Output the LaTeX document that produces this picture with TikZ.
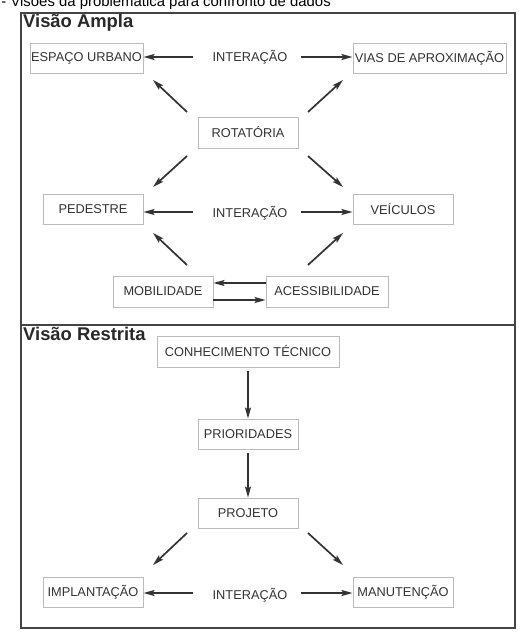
\documentclass[tikz,border=0pt]{standalone}
\usepackage{fontspec}
\setmainfont{Liberation Sans}
\usetikzlibrary{arrows.meta}
\definecolor{txt}{HTML}{333333}
\definecolor{boxline}{HTML}{BBBBBB}
\definecolor{frame}{HTML}{444444}
\tikzset{
  box/.style={draw=boxline, line width=0.9pt, text=txt, inner sep=0pt,
    font=\fontsize{12.8}{14}\selectfont},
  lbl/.style={text=txt, inner sep=0pt, font=\fontsize{12.8}{14}\selectfont},
  arr/.style={draw=txt, line width=1.7pt, -{Stealth[length=11pt,width=6pt,inset=2pt]}},
  ttl/.style={anchor=base west, inner sep=0pt, text=txt!80!black, font=\fontsize{18.4}{20}\selectfont\bfseries},
}
\newcommand{\bx}[6]{\node[box, minimum width=#4-#2, minimum height=#5-#3] (#1) at ({(#2+#4)/2},{(#3+#5)/2}) {#6};}
\begin{document}
\begin{tikzpicture}[x=1pt,y=-1pt]
\useasboundingbox (0,0) rectangle (519,632);
\fill[white] (0,0) rectangle (519,632);
\begin{scope}
\clip (0,0) rectangle (519,632);
\node[anchor=base east, inner sep=0pt, text=black, font=\fontsize{14.9}{16}\selectfont] (cap) at (331,6.5) {- Visões da problemática para confronto de dados};
\end{scope}
% frame
\draw[frame, line width=1.5pt] (21,13) rectangle (515,628);
\draw[frame, line width=1.5pt] (21,325) -- (515,325);
\node[ttl] (t1) at (23,27) {Visão Ampla};
\node[ttl] (t2) at (23,340) {Visão Restrita};
% upper
\bx{eu}{30}{43}{143}{73}{ESPAÇO URBANO}
\bx{va}{353}{43}{506}{73}{VIAS DE APROXIMAÇÃO}
\node[lbl] (i1) at (250,57) {INTERAÇÃO};
\bx{rot}{198}{117}{298}{148}{ROTATÓRIA}
\bx{ped}{43}{194}{143}{224}{PEDESTRE}
\bx{vei}{353}{194}{453}{224}{VEÍCULOS}
\node[lbl] (i2) at (250,213) {INTERAÇÃO};
\bx{mob}{113}{276}{213}{307}{MOBILIDADE}
\bx{ace}{266}{276}{388}{307}{ACESSIBILIDADE}
% lower
\bx{con}{157}{336}{339}{367}{CONHECIMENTO TÉCNICO}
\bx{pri}{198}{419}{298}{449}{PRIORIDADES}
\bx{pro}{198}{498}{298}{528}{PROJETO}
\bx{imp}{43}{577}{143}{607}{IMPLANTAÇÃO}
\bx{man}{353}{577}{453}{607}{MANUTENÇÃO}
\node[lbl] (i3) at (250,595) {INTERAÇÃO};
% coordinates for arrow ends
\coordinate (a1s) at (193,57); \coordinate (a1e) at (143.5,57);
\coordinate (a2s) at (301,57); \coordinate (a2e) at (352.5,57);
\draw[arr] (a1s) -- (a1e);
\draw[arr] (a2s) -- (a2e);
\coordinate (d1s) at (187,112); \coordinate (d1e) at (153,80);
\coordinate (d2s) at (308,112); \coordinate (d2e) at (343,80);
\draw[arr] (d1s) -- (d1e);
\draw[arr] (d2s) -- (d2e);
\coordinate (d3s) at (187,156); \coordinate (d3e) at (153,187);
\coordinate (d4s) at (308,156); \coordinate (d4e) at (343,187);
\draw[arr] (d3s) -- (d3e);
\draw[arr] (d4s) -- (d4e);
\coordinate (b1s) at (193,212); \coordinate (b1e) at (143.5,212);
\coordinate (b2s) at (301,212); \coordinate (b2e) at (352.5,212);
\draw[arr] (b1s) -- (b1e);
\draw[arr] (b2s) -- (b2e);
\coordinate (u1s) at (187,265); \coordinate (u1e) at (153,233);
\coordinate (u2s) at (308,265); \coordinate (u2e) at (343,233);
\draw[arr] (u1s) -- (u1e);
\draw[arr] (u2s) -- (u2e);
\draw[arr] (ace.west |- 0,283) -- (mob.east |- 0,283);
\draw[arr] (mob.east |- 0,300) -- (ace.west |- 0,300);
% lower arrows
\draw[arr] (248,371) -- (pri.north -| 248,0);
\draw[arr] (248,453) -- (pro.north -| 248,0);
\coordinate (p1s) at (187,533); \coordinate (p1e) at (153,565);
\coordinate (p2s) at (308,533); \coordinate (p2e) at (343,565);
\draw[arr] (p1s) -- (p1e);
\draw[arr] (p2s) -- (p2e);
\coordinate (c1s) at (193,593); \coordinate (c1e) at (143.5,593);
\coordinate (c2s) at (301,593); \coordinate (c2e) at (352.5,593);
\draw[arr] (c1s) -- (c1e);
\draw[arr] (c2s) -- (c2e);
\end{tikzpicture}
\end{document}
